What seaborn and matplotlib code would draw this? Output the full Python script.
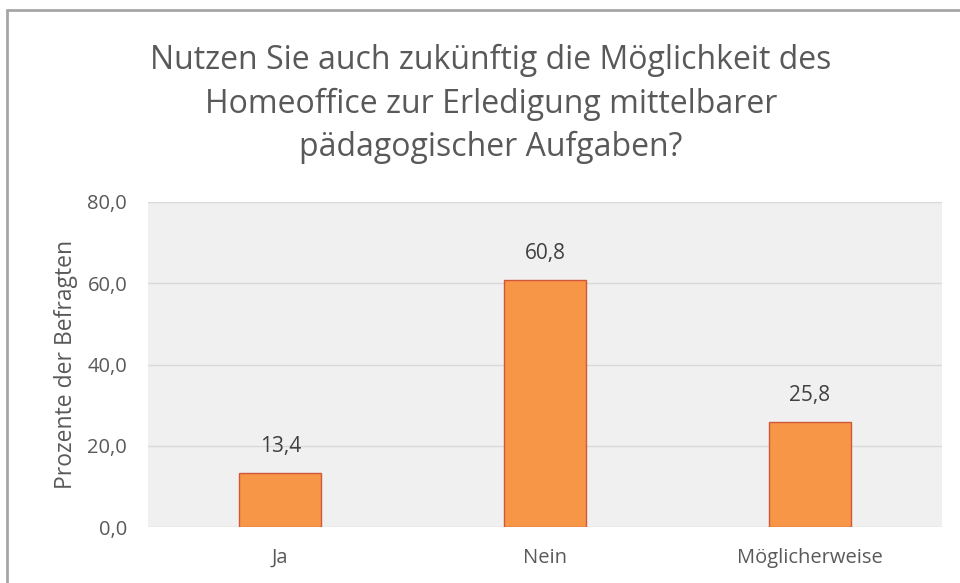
import matplotlib
matplotlib.use("Agg")
import matplotlib.pyplot as plt
import seaborn as sns
import pandas as pd
from matplotlib.lines import Line2D

# daten
kategorien = ["Ja", "Nein", "Möglicherweise"]
prozente = [13.4, 60.8, 25.8]
y_ticks = [0, 20, 40, 60, 80]
titel = "Nutzen Sie auch zukünftig die Möglichkeit des\nHomeoffice zur Erledigung mittelbarer\npädagogischer Aufgaben?"
y_label = "Prozente der Befragten"

sns.set_theme(style="white")
plt.rcParams["font.family"] = ["Open Sans", "DejaVu Sans"]

df = pd.DataFrame({"Antwort": kategorien, "Prozent": prozente})

fig = plt.figure(figsize=(9.6, 5.83), dpi=100)
ax = fig.add_axes([148 / 960, 1 - 527 / 583, (942 - 148) / 960, (527 - 202) / 583])
ax.set_facecolor("#F0F0F0")

sns.barplot(data=df, x="Antwort", y="Prozent", color="#F79646", width=0.31,
            saturation=1, edgecolor="#D0573A", linewidth=1.0, ax=ax, zorder=3)

ax.set_ylim(0, 80)
ax.set_yticks(y_ticks)
ax.set_yticklabels([f"{v:.1f}".replace(".", ",") for v in y_ticks])
ax.grid(axis="y", color="#D9D9D9", linewidth=1.0, zorder=0)
ax.set_axisbelow(True)
for s in ax.spines.values():
    s.set_visible(False)
ax.tick_params(axis="both", length=0, colors="#595959", labelsize=14.5)
ax.tick_params(axis="x", pad=15)
ax.tick_params(axis="y", pad=15)
ax.set_xlabel("")
ax.set_ylabel(y_label, fontsize=16.5, color="#595959", labelpad=7)

for p, v in zip(ax.patches, prozente):
    ax.annotate(f"{v:.1f}".replace(".", ","), (p.get_x() + p.get_width() / 2, v),
                xytext=(0, 19), textcoords="offset points", ha="center", va="center",
                fontsize=15, color="#404040")

fig.text(491 / 960, 1 - 104 / 583, titel, ha="center", va="center",
         fontsize=23, color="#595959", linespacing=1.4)

# rahmen
fig.add_artist(Line2D([7 / 960, 7 / 960], [0, 1 - 10 / 583], transform=fig.transFigure,
                      color="#A6A6A6", linewidth=2))
fig.add_artist(Line2D([7 / 960, 1], [1 - 10 / 583, 1 - 10 / 583], transform=fig.transFigure,
                      color="#A6A6A6", linewidth=2))

fig.savefig("out.png", dpi=100)
